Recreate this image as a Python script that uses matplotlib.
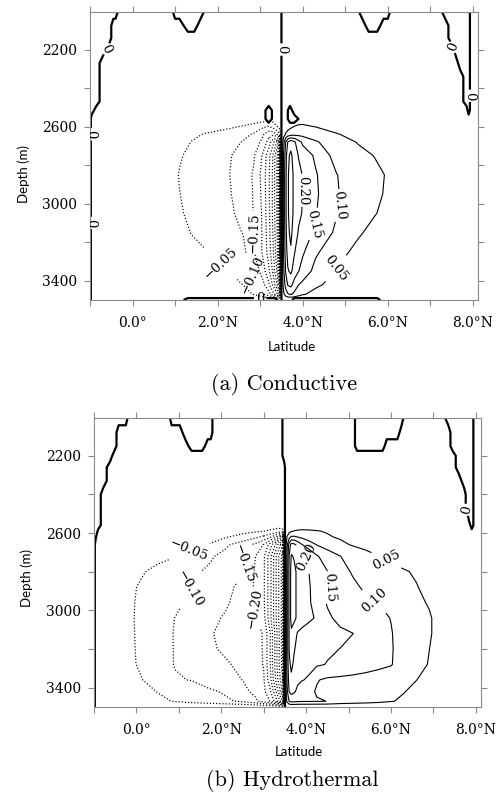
import numpy as np
import matplotlib
matplotlib.use("Agg")
import matplotlib.pyplot as plt

plt.rcParams["font.family"] = ["DejaVu Serif"]
plt.rcParams["axes.unicode_minus"] = True

# ---------------- axes ----------------
lat_major = [0, 2, 4, 6, 8]
lat_major_labels = ["0.0°", "2.0°N", "4.0°N", "6.0°N", "8.0°N"]
lat_minor = [-1, 1, 3, 5, 7]
depth_major = [2200, 2600, 3000, 3400]
depth_minor = [2400, 2800, 3200]
lat_range = (-1.0, 8.12)
depth_range = (3500, 2005)

neg_levels = [-0.60, -0.55, -0.50, -0.45, -0.40, -0.35, -0.30,
              -0.25, -0.20, -0.15, -0.10, -0.05]
pos_levels = [0.05, 0.10, 0.15, 0.20, 0.25]

# ---------------- (a) Conductive ----------------
# sign of the streamfunction (run lengths, alternating +/-, starting with +)
sign_a_lat = [-1.00, -0.96, -0.85, -0.70, -0.55, -0.45, -0.40, -0.30, 0.90, 1.00,
              1.10, 1.30, 1.45, 1.60, 1.75, 3.05, 3.20, 3.35, 3.45, 3.55,
              3.60, 3.70, 3.80, 4.00, 5.25, 5.40, 5.55, 5.75, 5.90, 6.00,
              6.10, 7.20, 7.35, 7.50, 7.60, 7.70, 7.85, 7.90, 7.96, 8.12]
sign_a_depth = [2005, 2075, 2140, 2200, 2270, 2340, 2410, 2470, 2515, 2560, 2600, 3480, 3500]
sign_a_runs = [
    [7, 2, 5, 5, 6, 5, 2, 6, 2],
    [5, 6, 2, 6, 7, 2, 5, 5, 2],
    [5, 14, 14, 5, 2],
    [4, 15, 15, 4, 2],
    [3, 16, 16, 3, 2],
    [3, 16, 17, 2, 2],
    [3, 16, 17, 2, 2],
    [3, 16, 17, 2, 2],
    [2, 14, 1, 2, 2, 1, 15, 1, 2],
    [1, 15, 1, 2, 2, 2, 17],
    [1, 18, 21],
    [1, 18, 21],
    [1, 10, 7, 1, 3, 6, 12],
]

# overturning cells, in 0.01 units
psi_a_lat = [0.9, 1.1, 1.4, 1.7, 2.0, 2.3, 2.6, 2.85, 3.05, 3.2, 3.3, 3.4, 3.45, 3.5,
             3.55, 3.6, 3.65, 3.72, 3.8, 3.9, 4.0, 4.3, 4.8, 5.3, 5.7, 6.0, 6.2]
psi_a_depth = [2570, 2600, 2640, 2680, 2750, 2850, 2950, 3050, 3150, 3250, 3350, 3420, 3470, 3500]
psi_a_rows = [
    [-0.3, -0.4, -0.6, -0.9, -1.3, -1.8, -2.5, -3.2, -4.0, -4.6, -4.2, -3.0, -2.0, 0.0,
     0.8, 1.2, 1.6, 2.2, 3.0, 3.8, 4.0, 3.6, 2.5, 1.6, 1.0, 0.6, 0.3],
    [-0.8, -1.2, -1.8, -2.6, -3.4, -4.3, -5.4, -7.0, -9.0, -10.5, -8.0, -5.2, -3.5, 0.0,
     1.5, 2.5, 3.2, 4.2, 5.1, 5.6, 5.6, 4.9, 3.8, 2.6, 1.7, 1.1, 0.7],
    [-1.8, -2.5, -4.0, -5.3, -6.3, -7.3, -8.8, -10.5, -14.0, -18.0, -19.0, -14.0, -10.5, 0.0,
     3.0, 5.5, 7.0, 8.0, 8.5, 8.6, 8.5, 7.8, 5.2, 3.9, 2.8, 2.0, 1.4],
    [-2.5, -3.5, -5.2, -6.2, -7.5, -8.5, -10.3, -12.5, -16.0, -22.0, -28.0, -36.0, -45.4, 0.0,
     8.0, 15.3, 20.3, 23.0, 21.0, 17.0, 14.0, 10.5, 7.5, 4.7, 3.5, 2.5, 1.7],
    [-3.3, -4.6, -6.0, -7.0, -8.2, -9.8, -12.0, -14.5, -20.3, -28.0, -35.3, -45.3, -56.0, 0.0,
     10.3, 18.0, 24.0, 26.0, 23.0, 19.8, 18.0, 14.2, 8.0, 6.5, 4.8, 3.6, 2.6],
    [-3.5, -5.2, -6.3, -7.2, -8.2, -10.1, -12.8, -15.5, -21.5, -29.0, -36.0, -46.0, -58.0, 0.0,
     11.0, 19.0, 24.5, 27.0, 24.0, 21.2, 19.8, 15.5, 10.1, 7.8, 6.1, 4.6, 3.3],
    [-3.3, -4.9, -6.2, -7.1, -8.1, -9.8, -12.6, -15.3, -21.0, -29.0, -36.0, -46.0, -58.0, 0.0,
     11.0, 19.0, 24.5, 27.0, 24.0, 21.3, 19.9, 15.8, 10.3, 7.8, 5.9, 4.4, 3.2],
    [-3.0, -4.5, -6.0, -7.0, -8.0, -9.0, -12.2, -15.2, -20.5, -28.5, -36.0, -46.0, -58.0, 0.0,
     11.0, 19.0, 24.5, 26.8, 24.0, 21.0, 19.7, 15.3, 10.2, 7.5, 5.2, 3.8, 2.8],
    [-2.5, -3.8, -5.2, -6.5, -7.4, -8.4, -10.2, -15.1, -20.3, -28.0, -35.3, -45.3, -57.0, 0.0,
     10.5, 18.5, 24.0, 26.0, 23.0, 19.6, 17.8, 14.0, 9.0, 5.6, 3.6, 2.6, 1.8],
    [-1.8, -2.7, -3.8, -4.7, -5.8, -7.3, -8.5, -14.6, -20.4, -27.0, -34.0, -44.0, -56.0, 0.0,
     10.3, 17.5, 22.0, 24.5, 20.5, 17.5, 15.7, 10.8, 6.6, 3.8, 2.5, 1.8, 1.2],
    [-1.0, -1.5, -2.2, -3.0, -4.0, -5.2, -7.5, -11.5, -17.0, -24.0, -31.0, -41.0, -53.0, 0.0,
     9.0, 15.5, 19.5, 21.0, 18.0, 15.2, 13.0, 8.5, 4.7, 2.6, 1.6, 1.1, 0.7],
    [-0.5, -0.8, -1.2, -1.8, -2.5, -3.5, -5.1, -8.5, -13.0, -19.0, -26.0, -35.3, -45.3, 0.0,
     7.0, 12.0, 15.5, 16.5, 13.0, 10.2, 8.8, 6.0, 3.0, 1.5, 1.0, 0.7, 0.4],
    [-0.2, -0.3, -0.5, -0.8, -1.2, -2.0, -3.2, -5.3, -9.0, -13.0, -18.0, -24.0, -30.3, 0.0,
     4.0, 7.5, 9.5, 10.5, 9.0, 7.0, 5.5, 3.5, 1.5, 0.8, 0.5, 0.3, 0.2],
    [0.0] * 27,
]

# ---------------- (b) Hydrothermal ----------------
sign_b_lat = [-1.00, -0.96, -0.90, -0.78, -0.62, -0.52, -0.42, -0.25, -0.17, 0.75,
              0.83, 1.02, 1.15, 1.30, 1.55, 1.68, 1.75, 1.83, 3.40, 3.48,
              3.52, 5.10, 5.20, 5.80, 5.90, 6.15, 6.25, 6.33, 7.20, 7.35,
              7.45, 7.60, 7.72, 7.80, 7.84, 7.90, 7.98, 8.12]
sign_b_depth = [2005, 2080, 2150, 2200, 2260, 2330, 2400, 2460, 2520, 2560, 2600, 2660, 3500]
sign_b_runs = [
    [8, 2, 7, 2, 3, 5, 2, 7, 2],
    [6, 6, 5, 2, 3, 4, 4, 6, 2],
    [6, 7, 2, 4, 3, 2, 6, 6, 2],
    [5, 14, 12, 5, 2],
    [4, 16, 11, 5, 2],
    [4, 16, 12, 4, 2],
    [3, 17, 13, 3, 2],
    [3, 17, 13, 3, 2],
    [3, 17, 14, 2, 2],
    [3, 17, 15, 1, 2],
    [2, 18, 18],
    [1, 19, 18],
    [1, 19, 18],
]

psi_b_lat = [-0.2, 0.1, 0.5, 0.9, 1.3, 1.7, 2.1, 2.5, 2.8, 3.0, 3.15, 3.3, 3.4, 3.45,
             3.5, 3.55, 3.6, 3.65, 3.72, 3.8, 3.9, 4.05, 4.25, 4.5, 4.8, 5.1, 5.4,
             5.7, 6.0, 6.3, 6.6, 6.9, 7.2]
psi_b_depth = [2560, 2590, 2620, 2660, 2720, 2800, 2880, 2960, 3040, 3120, 3200,
               3280, 3360, 3420, 3470, 3500]
psi_b_rows = [
    [-0.2, -0.3, -0.4, -0.6, -0.8, -1.0, -1.4, -1.8, -2.3, -2.7, -3.0, -3.3, -3.3, -3.0,
     0.0, 0.5, 1.0, 1.5, 2.0, 2.5, 3.0, 3.0, 2.8, 2.5, 2.0, 1.6, 1.3, 1.0, 0.8, 0.6, 0.4, 0.2, 0.1],
    [-0.5, -0.7, -1.0, -1.4, -1.9, -2.4, -3.0, -3.7, -4.3, -4.8, -5.6, -6.3, -6.5, -6.0,
     0.0, 2.0, 3.5, 4.5, 5.2, 5.5, 5.6, 5.5, 5.2, 4.7, 4.0, 3.3, 2.7, 2.2, 1.7, 1.3, 0.9, 0.5, 0.2],
    [-1.2, -1.6, -2.1, -2.7, -3.3, -3.9, -4.6, -6.5, -8.9, -11.0, -14.0, -20.3, -28.0, -35.3,
     0.0, 5.3, 8.5, 10.5, 10.7, 9.8, 9.0, 7.8, 6.6, 5.4, 4.5, 3.8, 3.2, 2.7, 2.2, 1.7, 1.2, 0.7, 0.3],
    [-1.8, -2.3, -2.9, -3.5, -4.2, -5.1, -9.0, -12.7, -16.0, -20.2, -27.0, -37.0, -45.4, -50.3,
     0.0, 9.0, 17.0, 22.0, 21.0, 18.5, 15.2, 12.5, 9.8, 7.8, 6.0, 4.6, 3.7, 3.0, 2.4, 1.9, 1.4, 0.8, 0.4],
    [-2.5, -3.2, -4.0, -4.8, -6.8, -9.1, -11.6, -14.2, -19.9, -24.1, -33.2, -45.6, -53.9, -58.0,
     0.0, 11.0, 20.3, 25.5, 24.5, 23.0, 21.5, 19.5, 15.5, 12.7, 10.1, 8.1, 6.5, 5.1, 3.9, 3.0, 2.1, 1.2, 0.6],
    [-3.8, -4.6, -5.96, -7.5, -9.04, -10.75, -12.75, -14.75, -20.5, -24.1, -33.2, -45.6, -53.9, -58.0,
     0.0, 12.0, 21.0, 27.0, 26.0, 24.0, 22.5, 20.2, 17.5, 15.1, 11.8, 9.5, 8.3, 7.2, 6.4, 5.4, 4.5, 3.0, 1.5],
    [-4.2, -5.38, -6.92, -8.46, -10.05, -11.82, -13.64, -16.39, -20.69, -24.14, -33.25, -45.6, -53.9, -58.0,
     0.0, 12.0, 21.0, 27.0, 26.0, 24.0, 22.5, 20.6, 18.0, 15.5, 13.0, 11.0, 9.2, 7.8, 6.9, 6.0, 5.2, 3.8, 2.0],
    [-4.3, -5.61, -7.37, -9.12, -10.85, -12.56, -14.27, -17.35, -20.69, -24.14, -33.25, -45.6, -53.9, -58.0,
     0.0, 12.0, 21.0, 27.0, 26.0, 24.0, 22.5, 21.0, 17.5, 14.6, 13.3, 12.0, 10.9, 9.95, 8.5, 7.2, 6.0, 4.6, 2.5],
    [-4.3, -5.74, -7.87, -10.02, -11.82, -13.64, -15.56, -17.78, -19.44, -23.3, -33.25, -45.6, -53.9, -58.0,
     0.0, 12.0, 21.0, 27.0, 26.0, 24.0, 22.5, 21.0, 19.5, 15.8, 13.8, 12.8, 11.8, 10.9, 9.9, 8.3, 6.9, 5.5, 3.0],
    [-4.2, -5.73, -7.98, -10.2, -12.34, -14.47, -16.25, -17.92, -19.17, -20.2, -29.7, -43.9, -53.3, -58.0,
     0.0, 12.0, 20.5, 24.0, 22.0, 19.5, 18.5, 17.8, 17.2, 16.6, 15.9, 15.05, 13.0, 11.5, 10.2, 8.5, 7.0, 5.5, 3.0],
    [-4.1, -5.68, -7.95, -10.19, -12.1, -14.04, -15.9, -17.73, -19.1, -20.2, -29.7, -43.9, -53.3, -58.0,
     0.0, 12.0, 20.3, 22.5, 20.3, 18.5, 17.5, 16.8, 16.2, 15.6, 14.95, 13.5, 12.3, 11.3, 10.3, 8.5, 7.0, 5.05, 2.8],
    [-4.0, -5.58, -7.9, -10.14, -11.53, -12.92, -14.31, -16.43, -18.57, -20.2, -29.7, -43.9, -53.3, -58.0,
     0.0, 11.5, 19.0, 21.0, 19.0, 17.5, 16.6, 16.0, 15.6, 14.8, 13.5, 12.5, 11.6, 10.8, 10.2, 8.3, 6.7, 4.7, 2.5],
    [-3.3, -4.7, -7.19, -9.69, -10.13, -12.42, -13.7, -15.05, -17.7, -19.5, -28.0, -42.0, -51.0, -56.0,
     0.0, 10.5, 17.5, 19.0, 17.0, 15.8, 15.2, 14.6, 10.3, 9.2, 9.0, 8.8, 8.6, 8.4, 8.0, 6.8, 5.05, 3.5, 1.8],
    [-2.2, -3.3, -5.16, -6.45, -7.74, -9.03, -10.71, -13.57, -16.25, -18.75, -24.0, -36.0, -46.0, -52.0,
     0.0, 9.0, 15.2, 16.5, 15.5, 14.0, 12.5, 11.2, 9.6, 8.8, 8.3, 7.8, 7.3, 6.6, 5.8, 5.2, 3.8, 2.5, 1.2],
    [-1.2, -2.2, -3.9, -5.31, -6.56, -7.81, -9.06, -11.0, -14.0, -17.0, -20.2, -28.0, -36.0, -40.3,
     0.0, 6.0, 10.3, 11.5, 11.2, 10.8, 10.5, 10.4, 10.3, 9.95, 8.5, 7.8, 7.2, 6.4, 5.3, 4.2, 2.8, 1.6, 0.8],
    [0.0] * 33,
]

# label anchors (lat, depth)
zero_marks_a = [(-0.58, 2200), (-0.98, 2640), (-0.98, 3100), (3.5, 2200),
                (7.5, 2190), (7.93, 2440), (3.0, 3492)]
neg_marks_a = [(2.05, 3320), (2.8, 3375), (2.87, 3150)]
pos_marks_a = [(3.98, 2930), (4.35, 3110), (4.82, 3010), (4.73, 3330)]
zero_marks_b = [(7.78, 2480)]
neg_marks_b = [(1.26, 2700), (1.35, 2900), (2.62, 2760), (2.78, 2990)]
pos_marks_b = [(4.0, 2726), (4.55, 2882), (5.62, 2950), (5.88, 2744)]


def decode_sign(runs):
    rows = []
    for r in runs:
        vals, s = [], 1.0
        for n in r:
            vals += [s] * n
            s = -s
        rows.append(vals)
    return np.array(rows)


def fmt_val(v):
    return f"{v:.2f}".replace("-", "\u2212")


def draw_panel(ax, s_lat, s_dep, s_runs, p_lat, p_dep, p_rows,
               zero_marks, neg_marks, pos_marks):
    sign = decode_sign(s_runs)
    psi = np.array(p_rows) * 0.01
    cz = ax.contour(s_lat, s_dep, sign, levels=[0], colors="k", linewidths=1.6)
    cn = ax.contour(p_lat, p_dep, psi, levels=neg_levels, colors="k",
                    linewidths=0.85, linestyles="dotted")
    cp = ax.contour(p_lat, p_dep, psi, levels=pos_levels, colors="k",
                    linewidths=0.8, linestyles="solid")
    ax.clabel(cz, manual=zero_marks, fmt=lambda v: "0", fontsize=9.5,
              inline=True, inline_spacing=2)
    ax.clabel(cn, manual=neg_marks, fmt=fmt_val, fontsize=9.5,
              inline=True, inline_spacing=2)
    ax.clabel(cp, manual=pos_marks, fmt=fmt_val, fontsize=9.5,
              inline=True, inline_spacing=2)

    ax.set_xlim(*lat_range)
    ax.set_ylim(*depth_range)
    ax.set_xticks(lat_major, lat_major_labels)
    ax.set_xticks(lat_minor, minor=True)
    ax.set_yticks(depth_major, [str(d) for d in depth_major])
    ax.set_yticks(depth_minor, minor=True)
    ax.tick_params(which="both", direction="out", length=4.5, width=0.8,
                   color="#8a8a8a", top=True, right=True, labelsize=10)
    ax.tick_params(axis="x", which="both", pad=7)
    ax.tick_params(axis="y", which="both", pad=5)
    for sp in ax.spines.values():
        sp.set_color("#8a8a8a")
        sp.set_linewidth(0.8)


fig = plt.figure(figsize=(5.04, 8.0), dpi=100)
ax_a = fig.add_axes([90 / 504, 1 - 300 / 800, 388 / 504, 288 / 800])
ax_b = fig.add_axes([94 / 504, 1 - 707 / 800, 387 / 504, 289 / 800])

draw_panel(ax_a, sign_a_lat, sign_a_depth, sign_a_runs, psi_a_lat, psi_a_depth,
           psi_a_rows, zero_marks_a, neg_marks_a, pos_marks_a)
draw_panel(ax_b, sign_b_lat, sign_b_depth, sign_b_runs, psi_b_lat, psi_b_depth,
           psi_b_rows, zero_marks_b, neg_marks_b, pos_marks_b)

sans = ["Lato", "DejaVu Sans"]
cm = ["cmr10", "DejaVu Serif"]
fig.text(23.5 / 504, 1 - 174 / 800, "Depth (m)", rotation=90, ha="center", va="center",
         family=sans, fontsize=9.5)
fig.text(292 / 504, 1 - 347 / 800, "Latitude", ha="center", va="center", family=sans, fontsize=9.5)
fig.text(284 / 504, 1 - 384 / 800, "(a) Conductive", ha="center", va="center", family=cm, fontsize=16)

fig.text(27 / 504, 1 - 578 / 800, "Depth (m)", rotation=90, ha="center", va="center",
         family=sans, fontsize=9.5)
fig.text(299 / 504, 1 - 752 / 800, "Latitude", ha="center", va="center", family=sans, fontsize=9.5)
fig.text(292 / 504, 1 - 780 / 800, "(b) Hydrothermal", ha="center", va="center", family=cm, fontsize=16)

fig.savefig("out.png", dpi=100)
